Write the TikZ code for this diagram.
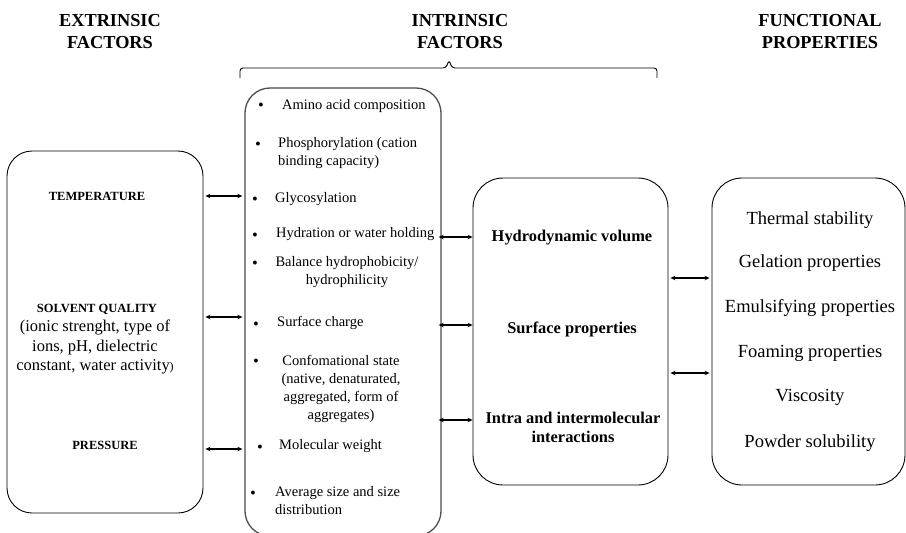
\documentclass[tikz,border=0pt]{standalone}
\usepackage{fontspec}
\setmainfont{Liberation Serif}
\usetikzlibrary{arrows.meta,positioning}
\tikzstyle{box}   =[draw, rounded corners=25pt, line width=0.9pt,
                    inner sep=0pt]
\tikzstyle{head}  =[font=\fontsize{18.3}{22}\selectfont\bfseries,
                    align=center]
\tikzstyle{factor}=[font=\fontsize{12.5}{15}\selectfont\bfseries]
\tikzstyle{note}  =[font=\fontsize{16.5}{19.5}\selectfont, align=center]
\tikzstyle{item}  =[font=\fontsize{14.5}{18}\selectfont, anchor=west,
                    inner sep=0pt]
\tikzstyle{dot}   =[font=\fontsize{16.5}{18}\selectfont, inner sep=0pt,
                    yshift=-3pt]
\tikzstyle{prop}  =[font=\fontsize{16.4}{19}\selectfont\bfseries,
                    align=center]
\tikzstyle{func}  =[font=\fontsize{18.5}{22}\selectfont]
\tikzstyle{link}  =[<->, >={Stealth[length=5pt,width=4.5pt]},
                    line width=1.3pt, shorten <=2pt, shorten >=2pt]
\begin{document}
\begin{tikzpicture}[x=1pt, y=-1pt]
    \useasboundingbox (0,0) rectangle (906,533);
    \clip (0,0) rectangle (906,533);

    \node[head] (hExt) at (110,32) {EXTRINSIC\\FACTORS};
    \node[head] (hInt) at (460,32) {INTRINSIC\\FACTORS};
    \node[head] (hFun) at (820,32) {FUNCTIONAL\\PROPERTIES};
    \draw[line width=0.9pt, rounded corners=3pt]
        (240,78) -- (240,68) -- (446,68) -- (449,60) -- (452,68)
        -- (657,68) -- (657,78);

    \node[box, minimum width=196pt, minimum height=362pt] (ext) at (105,332) {};
    \node[box, minimum width=196pt, minimum height=448pt, draw=black!70,
          line width=1.3pt] (int) at (343,312) {};
    \node[box, rounded corners=30pt, minimum width=195pt,
          minimum height=307pt] (mid) at (570.5,331.5) {};
    \node[box, rounded corners=30pt, minimum width=193pt,
          minimum height=307pt] (fun) at (808.5,331.5) {};

    \node[factor] (tempr) at (97,196) {TEMPERATURE};
    \node[factor] (solv) at (97,309) {SOLVENT QUALITY};
    \node[note] (solvtxt) at (95,347) {(ionic strenght, type of\\
        ions, pH, dielectric\\
        constant, water activity{\fontsize{12}{12}\selectfont)}};
    \node[factor] (press) at (105,445) {PRESSURE};

    \foreach \x/\y [count=\i] in {261/104, 258/143, 255/198, 255/234,
            255/262, 256/323, 256/360, 260/446, 253/492}
        \node[dot] (b\i) at (\x,\y) {\textbullet};
    \node[item] (amino) at (282,106) {Amino acid composition};
    \node[item, align=left] (phos) at (278,153.5)
        {Phosphorylation (cation\\binding capacity)};
    \node[item] (glyco) at (275,199) {Glycosylation};
    \node[item] (hydra) at (276,234) {Hydration or water holding};
    \node[item, anchor=center, align=center] (balance) at (347,272)
        {Balance hydrophobicity/\\hydrophilicity};
    \node[item] (surfch) at (277,323) {Surface charge};
    \node[item, anchor=center, align=center] (conf) at (341,389)
        {Confomational state\\(native, denaturated,\\aggregated, form of\\aggregates)};
    \node[item] (molw) at (279,446) {Molecular weight};
    \node[item, align=left] (avsize) at (275,501)
        {Average size and size\\distribution};

    \node[prop] (hydvol) at (572,238) {Hydrodynamic volume};
    \node[prop] (surfprop) at (572,329) {Surface properties};
    \node[prop] (intra) at (573,427.5) {Intra and intermolecular\\interactions};

    \node[func] (thermal) at (810,220) {Thermal stability};
    \node[func] (gel) at (810,263) {Gelation properties};
    \node[func] (emuls) at (810,308) {Emulsifying properties};
    \node[func] (foam) at (810,353) {Foaming properties};
    \node[func] (visc) at (810,397) {Viscosity};
    \node[func] (powder) at (810,443) {Powder solubility};

    \foreach \y [count=\i] in {196,317,449} {
        \coordinate (e\i) at (0,\y);
        \draw[link] (ext.east |- e\i) -- (int.west |- e\i);
    }
    \foreach \y [count=\i] in {237,325,420} {
        \coordinate (m\i) at (0,\y);
        \draw[link, shorten <=-3pt, shorten >=0pt] (int.east |- m\i) -- (mid.west |- m\i);
    }
    \foreach \y [count=\i] in {278,373} {
        \coordinate (f\i) at (0,\y);
        \draw[link] (mid.east |- f\i) -- (fun.west |- f\i);
    }
\end{tikzpicture}
\end{document}
